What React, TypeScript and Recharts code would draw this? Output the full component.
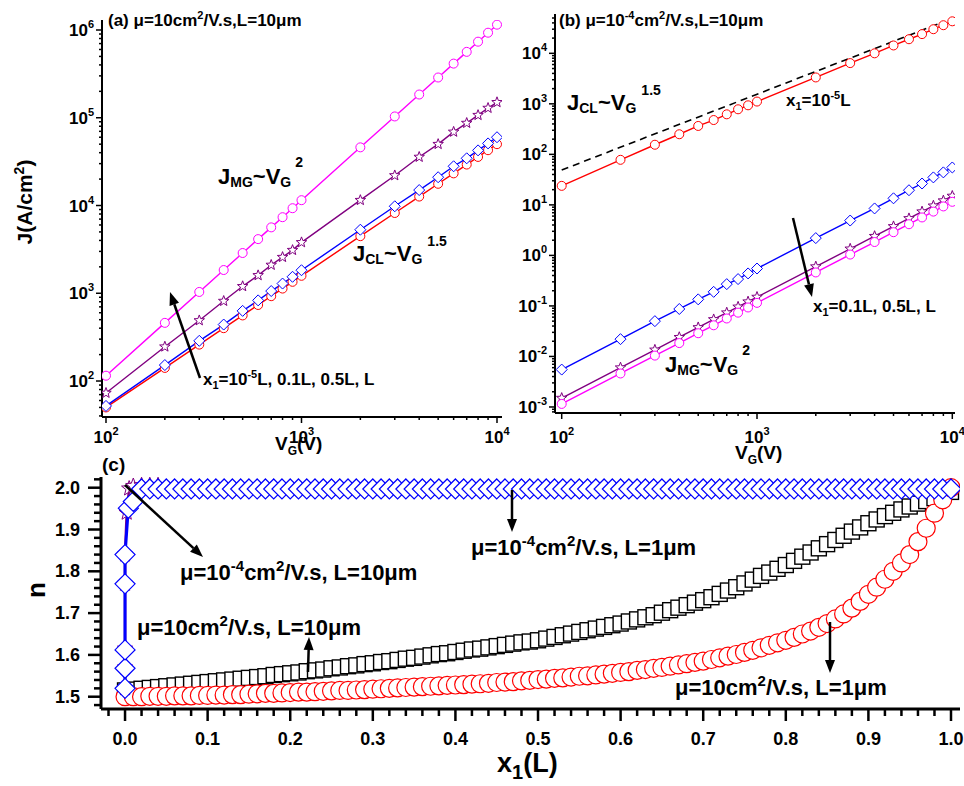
import React from "react";
import { ComposedChart, Line, XAxis, YAxis } from "recharts";

const W = 964;
const H = 786;
const FONT = "'Liberation Sans', Arial, Helvetica, sans-serif";

// ---- panels (a) and (b): gate voltage (V)
const VG = [100, 200, 300, 400, 500, 600, 700, 800, 900, 1000, 2000, 3000, 4000, 5000, 6000, 7000, 8000, 9000, 10000];

// (a) mu = 10 cm2/V.s, L = 10 um
const A_E5 = [50, 141, 260, 400, 559, 735, 926, 1131, 1350, 1581, 4472, 8216, 12649, 17678, 23238, 29283, 35777, 42691, 50000];
const A_TENTH = [52, 152, 287, 440, 630, 830, 1060, 1290, 1540, 1830, 5300, 9800, 15000, 21000, 28000, 34500, 42500, 51000, 60000];
const A_HALF = [73, 246, 490, 815, 1200, 1600, 2100, 2580, 3100, 3800, 11500, 22000, 35700, 50000, 69000, 87000, 107000, 129000, 150000];
const A_L = [115, 460, 1035, 1840, 2875, 4140, 5635, 7360, 9315, 11500, 46000, 103500, 184000, 287500, 414000, 563500, 736000, 931500, 1150000];

// (b) mu = 1e-4 cm2/V.s, L = 10 um
const B_E5 = [23.8, 78, 155, 250, 365, 478, 620, 780, 935, 1110, 3330, 6400, 10000, 14300, 19000, 24000, 30000, 36000, 43000];
const B_TENTH = [0.0055, 0.022, 0.05, 0.087, 0.135, 0.19, 0.27, 0.34, 0.44, 0.55, 2.2, 4.9, 8.5, 13.5, 19.5, 26.5, 35, 44, 55];
const B_HALF = [0.0015, 0.006, 0.0135, 0.024, 0.0375, 0.054, 0.0735, 0.096, 0.1215, 0.15, 0.6, 1.35, 2.4, 3.75, 5.4, 7.35, 9.6, 12.15, 15];
const B_L = [0.00115, 0.0046, 0.0104, 0.0184, 0.0288, 0.0414, 0.0564, 0.0736, 0.0932, 0.115, 0.46, 1.04, 1.84, 2.88, 4.14, 5.64, 7.36, 9.32, 11.5];
const B_CL_V = [100, 8800];
const B_CL_J = [49, 40400];

// ---- panel (c): n versus x1 (L)
const X_GRID = [0, 0.01, 0.02, 0.03, 0.04, 0.05, 0.06, 0.07, 0.08, 0.09, 0.1, 0.11, 0.12, 0.13, 0.14, 0.15, 0.16, 0.17, 0.18, 0.19, 0.2, 0.21, 0.22, 0.23, 0.24, 0.25, 0.26, 0.27, 0.28, 0.29, 0.3, 0.31, 0.32, 0.33, 0.34, 0.35, 0.36, 0.37, 0.38, 0.39, 0.4, 0.41, 0.42, 0.43, 0.44, 0.45, 0.46, 0.47, 0.48, 0.49, 0.5, 0.51, 0.52, 0.53, 0.54, 0.55, 0.56, 0.57, 0.58, 0.59, 0.6, 0.61, 0.62, 0.63, 0.64, 0.65, 0.66, 0.67, 0.68, 0.69, 0.7, 0.71, 0.72, 0.73, 0.74, 0.75, 0.76, 0.77, 0.78, 0.79, 0.8, 0.81, 0.82, 0.83, 0.84, 0.85, 0.86, 0.87, 0.88, 0.89, 0.9, 0.91, 0.92, 0.93, 0.94, 0.95, 0.96, 0.97, 0.98, 0.99, 1];
const C_SQ = [
  1.515, 1.517, 1.519, 1.521, 1.523, 1.525, 1.527, 1.529, 1.531, 1.533,
  1.535, 1.537, 1.539, 1.541, 1.543, 1.545, 1.547, 1.549, 1.552, 1.554,
  1.556, 1.558, 1.561, 1.563, 1.565, 1.568, 1.57, 1.573, 1.575, 1.578,
  1.58, 1.583, 1.585, 1.588, 1.591, 1.593, 1.596, 1.599, 1.602, 1.604,
  1.607, 1.61, 1.613, 1.615, 1.618, 1.621, 1.624, 1.627, 1.63, 1.632,
  1.635, 1.639, 1.643, 1.647, 1.651, 1.655, 1.659, 1.663, 1.667, 1.671,
  1.675, 1.68, 1.685, 1.69, 1.695, 1.701, 1.707, 1.713, 1.719, 1.725,
  1.731, 1.738, 1.746, 1.754, 1.762, 1.771, 1.78, 1.789, 1.797, 1.806,
  1.815, 1.825, 1.835, 1.845, 1.855, 1.865, 1.875, 1.885, 1.895, 1.905,
  1.915, 1.924, 1.932, 1.94, 1.948, 1.955, 1.962, 1.968, 1.975, 1.982,
  1.99,
];
const C_CIR = [
  1.5, 1.5, 1.5, 1.501, 1.501, 1.501, 1.502, 1.502, 1.502, 1.503,
  1.503, 1.504, 1.504, 1.505, 1.505, 1.506, 1.507, 1.508, 1.508, 1.509,
  1.51, 1.511, 1.511, 1.512, 1.513, 1.514, 1.515, 1.515, 1.516, 1.517,
  1.518, 1.519, 1.52, 1.521, 1.522, 1.523, 1.524, 1.525, 1.526, 1.527,
  1.528, 1.529, 1.53, 1.531, 1.532, 1.534, 1.535, 1.536, 1.538, 1.539,
  1.541, 1.542, 1.544, 1.545, 1.547, 1.549, 1.55, 1.552, 1.554, 1.556,
  1.558, 1.56, 1.563, 1.565, 1.568, 1.57, 1.573, 1.576, 1.579, 1.582,
  1.585, 1.589, 1.593, 1.597, 1.601, 1.606, 1.611, 1.617, 1.623, 1.629,
  1.635, 1.642, 1.65, 1.657, 1.666, 1.675, 1.686, 1.698, 1.712, 1.728,
  1.745, 1.762, 1.781, 1.8, 1.82, 1.84, 1.871, 1.903, 1.939, 1.971,
  2.0,
];
const STAR_X = [0, 0, 0, 0, 0, 0.002, 0.005, 0.01, 0.02, 0.03, 0.04];
const STAR_N = [1.52, 1.57, 1.615, 1.77, 1.84, 1.94, 1.998, 2.004, 2.006, 2.006, 2.006];
const DIA_X = [0, 0, 0, 0, 0, 0.004, 0.01, 0.02, 0.03, 0.04, 0.05, 0.06, 0.07, 0.08, 0.09, 0.1, 0.11, 0.12, 0.13, 0.14, 0.15, 0.16, 0.17, 0.18, 0.19, 0.2, 0.21, 0.22, 0.23, 0.24, 0.25, 0.26, 0.27, 0.28, 0.29, 0.3, 0.31, 0.32, 0.33, 0.34, 0.35, 0.36, 0.37, 0.38, 0.39, 0.4, 0.41, 0.42, 0.43, 0.44, 0.45, 0.46, 0.47, 0.48, 0.49, 0.5, 0.51, 0.52, 0.53, 0.54, 0.55, 0.56, 0.57, 0.58, 0.59, 0.6, 0.61, 0.62, 0.63, 0.64, 0.65, 0.66, 0.67, 0.68, 0.69, 0.7, 0.71, 0.72, 0.73, 0.74, 0.75, 0.76, 0.77, 0.78, 0.79, 0.8, 0.81, 0.82, 0.83, 0.84, 0.85, 0.86, 0.87, 0.88, 0.89, 0.9, 0.91, 0.92, 0.93, 0.94, 0.95, 0.96, 0.97, 0.98, 0.99, 1];
const DIA_N = [
  1.52, 1.568, 1.612, 1.77, 1.84, 1.951, 1.967,
  1.997, 1.997, 1.997, 1.997, 1.997, 1.997, 1.997, 1.997, 1.997, 1.997,
  1.997, 1.997, 1.997, 1.997, 1.997, 1.997, 1.997, 1.997, 1.997, 1.997,
  1.997, 1.997, 1.997, 1.997, 1.997, 1.997, 1.997, 1.997, 1.997, 1.997,
  1.997, 1.997, 1.997, 1.997, 1.997, 1.997, 1.997, 1.997, 1.997, 1.997,
  1.997, 1.997, 1.997, 1.997, 1.997, 1.997, 1.997, 1.997, 1.997, 1.997,
  1.997, 1.997, 1.997, 1.997, 1.997, 1.997, 1.997, 1.997, 1.997, 1.997,
  1.997, 1.997, 1.997, 1.997, 1.997, 1.997, 1.997, 1.997, 1.997, 1.997,
  1.997, 1.997, 1.997, 1.997, 1.997, 1.997, 1.997, 1.997, 1.997, 1.997,
  1.997, 1.997, 1.997, 1.997, 1.997, 1.997, 1.997, 1.997, 1.997, 1.997,
  1.997, 1.997, 1.997, 1.997, 1.997, 1.997, 1.997, 1.997, 1.997,
];

// ---- ticks
const A_XTICKS = VG;
const A_YTICKS = [40, 50, 60, 70, 80, 90, 100, 200, 300, 400, 500, 600, 700, 800, 900, 1000, 2000, 3000, 4000, 5000, 6000, 7000, 8000, 9000, 10000, 20000, 30000, 40000, 50000, 60000, 70000, 80000, 90000, 100000, 200000, 300000, 400000, 500000, 600000, 700000, 800000, 900000, 1000000];
const B_YTICKS = [0.0008, 0.0009, 0.001, 0.002, 0.003, 0.004, 0.005, 0.006, 0.007, 0.008, 0.009, 0.01, 0.02, 0.03, 0.04, 0.05, 0.06, 0.07, 0.08, 0.09, 0.1, 0.2, 0.3, 0.4, 0.5, 0.6, 0.7, 0.8, 0.9, 1, 2, 3, 4, 5, 6, 7, 8, 9, 10, 20, 30, 40, 50, 60, 70, 80, 90, 100, 200, 300, 400, 500, 600, 700, 800, 900, 1000, 2000, 3000, 4000, 5000, 6000, 7000, 8000, 9000, 10000, 20000, 30000, 40000, 50000];
const C_XTICKS = [-0.02, 0, 0.02, 0.04, 0.06, 0.08, 0.1, 0.12, 0.14, 0.16, 0.18, 0.2, 0.22, 0.24, 0.26, 0.28, 0.3, 0.32, 0.34, 0.36, 0.38, 0.4, 0.42, 0.44, 0.46, 0.48, 0.5, 0.52, 0.54, 0.56, 0.58, 0.6, 0.62, 0.64, 0.66, 0.68, 0.7, 0.72, 0.74, 0.76, 0.78, 0.8, 0.82, 0.84, 0.86, 0.88, 0.9, 0.92, 0.94, 0.96, 0.98, 1];
const C_YTICKS = [1.48, 1.5, 1.52, 1.54, 1.56, 1.58, 1.6, 1.62, 1.64, 1.66, 1.68, 1.7, 1.72, 1.74, 1.76, 1.78, 1.8, 1.82, 1.84, 1.86, 1.88, 1.9, 1.92, 1.94, 1.96, 1.98, 2.0, 2.02];

const pts = (xs: number[], ys: number[]) => xs.map((x, i) => ({ x, y: ys[i] }));

// ---- markers
function starPath(cx: number, cy: number, R: number, r: number) {
  let d = "";
  for (let i = 0; i < 10; i++) {
    const a = -Math.PI / 2 + (i * Math.PI) / 5;
    const rr = i % 2 ? r : R;
    d += (i ? "L" : "M") + (cx + rr * Math.cos(a)).toFixed(2) + "," + (cy + rr * Math.sin(a)).toFixed(2);
  }
  return d + "Z";
}

const circleDot = (r: number, color: string, sw: number) => (p: any) =>
  p.cx == null ? <g key={`c${p.index}`} /> : <circle key={`c${p.index}`} cx={p.cx} cy={p.cy} r={r} fill="#fff" stroke={color} strokeWidth={sw} />;
const diamondDot = (r: number, color: string, sw: number) => (p: any) =>
  p.cx == null ? <g key={`d${p.index}`} /> : (
    <path key={`d${p.index}`} d={`M${p.cx},${p.cy - r}L${p.cx + r},${p.cy}L${p.cx},${p.cy + r}L${p.cx - r},${p.cy}Z`} fill="#fff" stroke={color} strokeWidth={sw} />
  );
const starDot = (R: number, r: number, color: string, sw: number) => (p: any) =>
  p.cx == null ? <g key={`s${p.index}`} /> : <path key={`s${p.index}`} d={starPath(p.cx, p.cy, R, r)} fill="#fff" stroke={color} strokeWidth={sw} />;
const squareDot = (s: number, color: string, sw: number) => (p: any) =>
  p.cx == null ? <g key={`q${p.index}`} /> : <rect key={`q${p.index}`} x={p.cx - s / 2} y={p.cy - s / 2} width={s} height={s} fill="#fff" stroke={color} strokeWidth={sw} />;

// ---- tick renderers (axis tickSize 0, so x/y sit on the axis line)
const isDecade = (v: number) => Math.abs(Math.log10(v) - Math.round(Math.log10(v))) < 1e-6;

function LogXTick(props: any) {
  const { x, y, payload, off } = props;
  const v = payload.value;
  const major = isDecade(v);
  return (
    <g>
      <line x1={x} x2={x} y1={y} y2={y + (major ? 6 : 3)} stroke="#000" strokeWidth={1.5} />
      {major && (
        <text x={x} y={y + off} textAnchor="middle" fontSize={17} fontWeight="bold" fontFamily={FONT}>
          <tspan>10</tspan>
          <tspan dy={-8} fontSize={11}>{Math.round(Math.log10(v))}</tspan>
        </text>
      )}
    </g>
  );
}

function LogYTick(props: any) {
  const { x, y, payload } = props;
  const v = payload.value;
  const major = isDecade(v);
  return (
    <g>
      <line x1={x - (major ? 6 : 3)} x2={x} y1={y} y2={y} stroke="#000" strokeWidth={1.5} />
      {major && (
        <text x={x - 8} y={y + 6} textAnchor="end" fontSize={17} fontWeight="bold" fontFamily={FONT}>
          <tspan>10</tspan>
          <tspan dy={-8} fontSize={11}>{Math.round(Math.log10(v))}</tspan>
        </text>
      )}
    </g>
  );
}

const isTenth = (v: number) => Math.abs(v * 10 - Math.round(v * 10)) < 1e-6;

function LinXTick(props: any) {
  const { x, y, payload } = props;
  const v = payload.value;
  const major = isTenth(v);
  return (
    <g>
      <line x1={x} x2={x} y1={y} y2={y + (major ? 12 : 7)} stroke="#000" strokeWidth={2.5} />
      {major && (
        <text x={x} y={y + 36} textAnchor="middle" fontSize={18} fontWeight="bold" fontFamily={FONT}>
          {v.toFixed(1)}
        </text>
      )}
    </g>
  );
}

function LinYTick(props: any) {
  const { x, y, payload } = props;
  const v = payload.value;
  const major = isTenth(v);
  return (
    <g>
      <line x1={x - (major ? 13 : 7)} x2={x} y1={y} y2={y} stroke="#000" strokeWidth={2.5} />
      {major && (
        <text x={x - 21} y={y + 6} textAnchor="end" fontSize={18} fontWeight="bold" fontFamily={FONT}>
          {v.toFixed(1)}
        </text>
      )}
    </g>
  );
}

// ---- rich text (sub/superscripts)
type Part = { t: string; fs?: number; sh?: number; dx?: number };
const N = (t: string): Part => ({ t });
const S = (t: string, fs: number, sh: number, dx?: number): Part => ({ t, fs, sh, dx });

function Rich({ x, y, size, parts, anchor = "start", rot = false }: { x: number; y: number; size: number; parts: Part[]; anchor?: string; rot?: boolean }) {
  let prev = 0;
  return (
    <text
      x={x}
      y={y}
      fontSize={size}
      fontWeight="bold"
      fontFamily={FONT}
      textAnchor={anchor as any}
      style={{ whiteSpace: "pre" }}
      transform={rot ? `rotate(-90 ${x} ${y})` : undefined}
    >
      {parts.map((p, i) => {
        const sh = p.sh ?? 0;
        const dy = sh - prev;
        prev = sh;
        return (
          <tspan key={i} dy={dy} dx={p.dx} fontSize={p.fs}>
            {p.t}
          </tspan>
        );
      })}
    </text>
  );
}

function Arrow({ x1, y1, x2, y2 }: { x1: number; y1: number; x2: number; y2: number }) {
  const a = Math.atan2(y2 - y1, x2 - x1);
  const L = 13;
  const w = 5;
  const bx = x2 - L * Math.cos(a);
  const by = y2 - L * Math.sin(a);
  const px = -Math.sin(a) * w;
  const py = Math.cos(a) * w;
  return (
    <g>
      <line x1={x1} y1={y1} x2={bx} y2={by} stroke="#000" strokeWidth={2.5} />
      <path d={`M${x2},${y2}L${bx + px},${by + py}L${bx - px},${by - py}Z`} fill="#000" />
    </g>
  );
}

const JMG: Part[] = [N("J"), S("MG", 14, 3), N("~V"), S("G", 14, 3), S("2", 14, -17, 4)];
const JCL: Part[] = [N("J"), S("CL", 14, 3), N("~V"), S("G", 14, 3), S("1.5", 14, -15, 5)];
const VGL: Part[] = [N("V"), S("G", 12, 5), N("(V)")];

const abs: React.CSSProperties = { position: "absolute", left: 0, top: 0 };
const AXW = 60; // y-axis band width
const AXH = 40; // x-axis band height

export default function App() {
  return (
    <div style={{ position: "absolute", left: 0, top: 0, width: W, height: H, background: "#fff" }}>
      {/* (a) */}
      <div style={abs}>
        <ComposedChart width={W} height={H} margin={{ top: 20, right: 462, bottom: 369 - AXH, left: 102 - AXW }}>
          <XAxis type="number" dataKey="x" scale="log" domain={[95.4, 10607]} allowDataOverflow ticks={A_XTICKS} interval={0}
            height={AXH} tickSize={0} tickMargin={0} tickLine={false} axisLine={{ stroke: "#000", strokeWidth: 2 }}
            tick={(p: any) => <LogXTick {...p} off={26} />} />
          <YAxis type="number" dataKey="y" scale="log" domain={[38.9, 1300000]} allowDataOverflow ticks={A_YTICKS} interval={0}
            width={AXW} tickSize={0} tickMargin={0} tickLine={false} axisLine={{ stroke: "#000", strokeWidth: 2 }}
            tick={(p: any) => <LogYTick {...p} />} />
          <Line data={pts(VG, A_E5)} dataKey="y" stroke="#ff0000" strokeWidth={1.4} dot={circleDot(4.5, "#ff0000", 1)} activeDot={false} isAnimationActive={false} />
          <Line data={pts(VG, A_TENTH)} dataKey="y" stroke="#0000ff" strokeWidth={1.4} dot={diamondDot(5.5, "#0000ff", 1)} activeDot={false} isAnimationActive={false} />
          <Line data={pts(VG, A_HALF)} dataKey="y" stroke="#800080" strokeWidth={1.4} dot={starDot(5.5, 2.3, "#800080", 1)} activeDot={false} isAnimationActive={false} />
          <Line data={pts(VG, A_L)} dataKey="y" stroke="#ff00ff" strokeWidth={1.4} dot={circleDot(4.5, "#ff00ff", 1)} activeDot={false} isAnimationActive={false} />
        </ComposedChart>
      </div>

      {/* (b) */}
      <div style={abs}>
        <ComposedChart width={W} height={H} margin={{ top: 14, right: 9, bottom: 373 - AXH, left: 555 - AXW }}>
          <XAxis type="number" dataKey="x" scale="log" domain={[92.4, 10323]} allowDataOverflow ticks={A_XTICKS} interval={0}
            height={AXH} tickSize={0} tickMargin={0} tickLine={false} axisLine={{ stroke: "#000", strokeWidth: 2 }}
            tick={(p: any) => <LogXTick {...p} off={30} />} />
          <YAxis type="number" dataKey="y" scale="log" domain={[0.00076, 60000]} allowDataOverflow ticks={B_YTICKS} interval={0}
            width={AXW} tickSize={0} tickMargin={0} tickLine={false} axisLine={{ stroke: "#000", strokeWidth: 2 }}
            tick={(p: any) => <LogYTick {...p} />} />
          <Line data={pts(B_CL_V, B_CL_J)} dataKey="y" stroke="#000" strokeWidth={1.6} strokeDasharray="7 5" dot={false} activeDot={false} isAnimationActive={false} />
          <Line data={pts(VG, B_E5)} dataKey="y" stroke="#ff0000" strokeWidth={1.4} dot={circleDot(4.5, "#ff0000", 1)} activeDot={false} isAnimationActive={false} />
          <Line data={pts(VG, B_TENTH)} dataKey="y" stroke="#0000ff" strokeWidth={1.4} dot={diamondDot(5.5, "#0000ff", 1)} activeDot={false} isAnimationActive={false} />
          <Line data={pts(VG, B_HALF)} dataKey="y" stroke="#800080" strokeWidth={1.4} dot={starDot(5.5, 2.3, "#800080", 1)} activeDot={false} isAnimationActive={false} />
          <Line data={pts(VG, B_L)} dataKey="y" stroke="#ff00ff" strokeWidth={1.4} dot={circleDot(4.5, "#ff00ff", 1)} activeDot={false} isAnimationActive={false} />
        </ComposedChart>
      </div>

      {/* (c) */}
      <div style={abs}>
        <ComposedChart width={W} height={H} margin={{ top: 477, right: 4, bottom: 77 - AXH, left: 101 - AXW }}>
          <XAxis type="number" dataKey="x" domain={[-0.0291, 1.0109]} allowDataOverflow ticks={C_XTICKS} interval={0}
            height={AXH} tickSize={0} tickMargin={0} tickLine={false} axisLine={{ stroke: "#000", strokeWidth: 3 }}
            tick={(p: any) => <LinXTick {...p} />} />
          <YAxis type="number" dataKey="y" domain={[1.4706, 2.0256]} allowDataOverflow ticks={C_YTICKS} interval={0}
            width={AXW} tickSize={0} tickMargin={0} tickLine={false} axisLine={{ stroke: "#000", strokeWidth: 3 }}
            tick={(p: any) => <LinYTick {...p} />} />
          <Line data={pts(X_GRID, C_SQ)} dataKey="y" stroke="none" dot={squareDot(15, "#000", 1.4)} activeDot={false} isAnimationActive={false} />
          <Line data={pts(X_GRID, C_CIR)} dataKey="y" stroke="none" dot={circleDot(9, "#ff0000", 1.2)} activeDot={false} isAnimationActive={false} />
          <Line data={pts(STAR_X, STAR_N)} dataKey="y" stroke="#800080" strokeWidth={2.5} dot={starDot(8, 3.4, "#800080", 1)} activeDot={false} isAnimationActive={false} />
          <Line data={pts(DIA_X, DIA_N)} dataKey="y" stroke="#0000ff" strokeWidth={3} dot={diamondDot(10, "#0000ff", 1.2)} activeDot={false} isAnimationActive={false} />
        </ComposedChart>
      </div>

      {/* annotations */}
      <svg width={W} height={H} style={{ ...abs, pointerEvents: "none" }}>
        <Rich x={108} y={26} size={17} parts={[N("(a) μ=10cm"), S("2", 11, -7), N("/V.s,L=10μm")]} />
        <Rich x={559} y={26} size={17} parts={[N("(b) μ=10"), S("-4", 11, -7), N("cm"), S("2", 11, -7), N("/V.s,L=10μm")]} />
        <Rich x={218} y={184} size={22} parts={JMG} />
        <Rich x={353} y={261} size={22} parts={JCL} />
        <Rich x={567} y={110} size={22} parts={JCL} />
        <Rich x={665} y={372} size={22} parts={JMG} />
        <Rich x={203} y={385} size={17} parts={[N("x"), S("1", 11, 4), N("=10"), S("-5", 11, -7), N("L, 0.1L, 0.5L, L")]} />
        <Rich x={786} y={106} size={17} parts={[N("x"), S("1", 11, 4), N("=10"), S("-5", 11, -7), N("L")]} />
        <Rich x={813} y={312} size={17} parts={[N("x"), S("1", 11, 4), N("=0.1L, 0.5L, L")]} />
        <Rich x={32} y={202} size={21} anchor="middle" rot parts={[N("J(A/cm"), S("2", 14, -8), N(")")]} />
        <Rich x={275} y={450} size={19} parts={VGL} />
        <Rich x={735} y={459} size={19} parts={VGL} />
        <Arrow x1={200} y1={378} x2={170} y2={292} />
        <Arrow x1={793} y1={218} x2={812} y2={297} />

        <Rich x={102} y={471} size={19} parts={[N("(c)")]} />
        <Rich x={45} y={590} size={26} anchor="middle" rot parts={[N("n")]} />
        <Rich x={497} y={772} size={27} parts={[N("x"), S("1", 20, 7), N("(L)")]} />
        <Rich x={180} y={580} size={22} parts={[N("μ=10"), S("-4", 15, -9), N("cm"), S("2", 15, -9), N("/V.s, L=10μm")]} />
        <Rich x={137} y={635} size={22} parts={[N("μ=10cm"), S("2", 15, -9), N("/V.s, L=10μm")]} />
        <Rich x={471} y={555} size={22} parts={[N("μ=10"), S("-4", 15, -9), N("cm"), S("2", 15, -9), N("/V.s, L=1μm")]} />
        <Rich x={675} y={695} size={22} parts={[N("μ=10cm"), S("2", 15, -9), N("/V.s, L=1μm")]} />
        <Arrow x1={125} y1={485} x2={203} y2={557} />
        <Arrow x1={308} y1={672} x2={309} y2={637} />
        <Arrow x1={512} y1={490} x2={512} y2={532} />
        <Arrow x1={830} y1={622} x2={830} y2={673} />
      </svg>
    </div>
  );
}
